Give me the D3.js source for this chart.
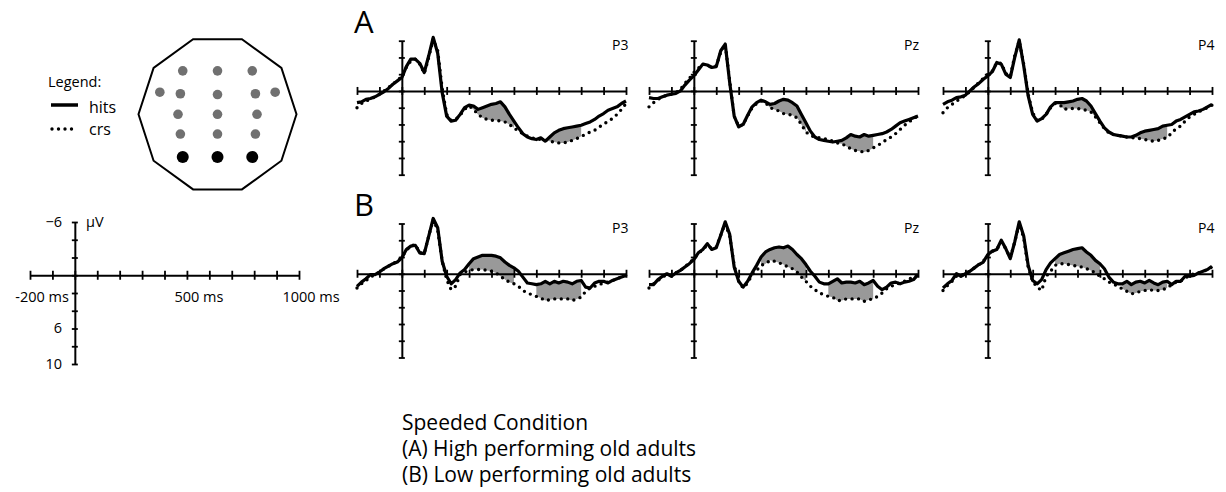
<!DOCTYPE html>
<html>
<head>
<meta charset="utf-8">
<script src="https://cdn.jsdelivr.net/npm/d3@7"></script>
<style>
  body { margin: 0; background: #fff; }
  svg { display: block; font-family: 'Open Sans', sans-serif; }
</style>
</head>
<body>
<svg id="chart" width="1226" height="492"></svg>
<script>
// sample times (ms), one value every 20 ms
const times = [-200, -180, -160, -140, -120, -100, -80, -60, -40, -20,
  0, 20, 40, 60, 80, 100, 120, 140, 160, 180,
  200, 220, 240, 260, 280, 300, 320, 340, 360, 380,
  400, 420, 440, 460, 480, 500, 520, 540, 560, 580,
  600, 620, 640, 660, 680, 700, 720, 740, 760, 780,
  800, 820, 840, 860, 880, 900, 920, 940, 960, 980, 1000]

const xTickValues = [-200, -100, 0, 100, 200, 300, 400, 500, 600, 700, 800, 900, 1000]
const yTickValues = [-6, -4, -2, 0, 2, 4, 6, 8, 10]

const groups = ['A', 'B']
const channels = ['P3', 'Pz', 'P4']

// amplitudes in microvolts (negative plotted up)
const hitsA_P3 = [1.4, 1.3, 1.0, 0.9, 0.7, 0.4, 0.1, -0.3, -0.8, -1.2,
  -1.6, -2.9, -3.8, -3.8, -3.3, -2.2, -4.2, -6.4, -4.5, 0.2,
  3.0, 3.6, 3.5, 2.8, 2.0, 1.7, 1.8, 2.2, 2.0, 1.8,
  1.6, 1.5, 1.3, 1.9, 2.8, 3.6, 4.4, 5.1, 5.5, 5.7,
  5.8, 5.6, 6.0, 5.5, 5.0, 4.7, 4.5, 4.4, 4.3, 4.2,
  4.1, 3.9, 3.7, 3.4, 3.0, 2.7, 2.3, 2.1, 1.9, 1.5, 1.2]
const crsA_P3 = [2.0, 1.5, 1.2, 1.0, 0.7, 0.4, 0.0, -0.4, -0.8, -1.3,
  -1.7, -2.8, -3.6, -3.8, -3.2, -2.1, -4.0, -6.2, -4.8, -0.3,
  2.8, 3.5, 3.4, 2.9, 2.2, 1.8, 2.2, 2.8, 3.2, 3.4,
  3.5, 3.5, 3.6, 3.7, 4.0, 4.4, 4.8, 5.1, 5.4, 5.6,
  5.7, 5.8, 5.9, 6.0, 6.1, 6.2, 6.2, 6.1, 5.9, 5.7,
  5.4, 5.2, 4.9, 4.7, 4.3, 4.0, 3.6, 3.3, 2.8, 2.2, 1.5]
const hitsA_Pz = [0.8, 0.9, 0.9, 0.7, 0.5, 0.4, 0.3, 0.0, -0.7, -1.3,
  -1.8, -2.5, -3.2, -3.1, -2.8, -2.9, -4.8, -5.6, -1.0, 3.0,
  4.3, 4.0, 2.9, 1.9, 1.4, 1.1, 1.3, 1.6, 1.5, 1.2,
  1.0, 1.1, 1.4, 1.8, 2.8, 3.8, 4.8, 5.5, 5.8, 5.9,
  6.0, 6.1, 6.0, 5.9, 5.6, 5.2, 5.4, 5.5, 5.2, 5.4,
  5.3, 5.2, 5.1, 4.9, 4.6, 4.2, 3.8, 3.6, 3.4, 3.2, 3.0]
const crsA_Pz = [1.9, 1.4, 1.0, 0.7, 0.5, 0.4, 0.2, -0.2, -0.9, -1.5,
  -2.2, -2.7, -3.2, -3.1, -2.8, -3.0, -4.6, -5.6, -1.2, 3.0,
  4.2, 4.0, 3.0, 2.0, 1.5, 1.2, 1.4, 2.0, 2.2, 2.4,
  2.7, 2.8, 2.9, 3.2, 4.0, 4.9, 5.3, 5.5, 5.6, 5.7,
  5.8, 6.0, 6.2, 6.3, 6.6, 6.9, 7.1, 7.2, 7.3, 7.1,
  6.8, 6.5, 6.2, 5.8, 5.5, 5.1, 4.6, 4.1, 3.7, 3.3, 3.0]
const hitsA_P4 = [1.6, 1.3, 1.1, 0.8, 0.7, 0.5, 0.0, -0.5, -0.9, -1.4,
  -1.8, -2.3, -3.4, -3.2, -2.0, -1.6, -4.0, -6.1, -3.0, 0.6,
  2.8, 3.6, 3.3, 2.8, 1.9, 1.4, 1.4, 1.4, 1.3, 1.2,
  1.0, 0.9, 1.2, 1.8, 2.7, 3.6, 4.4, 4.9, 5.2, 5.3,
  5.4, 5.5, 5.5, 5.3, 5.0, 4.8, 4.7, 4.6, 4.5, 4.2,
  4.1, 4.0, 3.6, 3.4, 3.1, 2.8, 2.5, 2.4, 2.2, 1.9, 1.6]
const crsA_P4 = [2.6, 2.0, 1.6, 1.2, 0.9, 0.5, 0.1, -0.5, -1.0, -1.5,
  -2.0, -2.4, -3.4, -3.3, -2.1, -1.7, -4.2, -6.0, -3.2, 0.4,
  2.6, 3.5, 3.4, 2.8, 2.0, 1.5, 1.6, 2.2, 2.1, 2.1,
  2.1, 2.2, 2.3, 2.5, 3.1, 3.8, 4.5, 5.0, 5.2, 5.3,
  5.4, 5.5, 5.6, 5.6, 5.7, 5.8, 5.9, 6.0, 5.9, 5.7,
  5.6, 5.0, 4.5, 4.2, 3.6, 3.1, 2.8, 2.5, 2.2, 2.0, 1.7]
const hitsB_P3 = [1.5, 1.0, 0.6, 0.1, 0.1, -0.2, -0.6, -0.9, -1.2, -1.4,
  -1.9, -2.9, -3.3, -3.4, -2.5, -2.4, -4.5, -6.6, -5.5, -1.5,
  0.3, 1.2, 0.7, -0.1, -0.5, -1.2, -1.8, -2.0, -2.2, -2.2,
  -2.2, -2.1, -1.9, -1.4, -1.0, -0.7, -0.3, 0.4, 1.1, 1.2,
  1.3, 1.2, 0.9, 1.2, 0.9, 1.1, 0.9, 1.0, 1.2, 0.9,
  0.8, 1.6, 1.7, 1.1, 0.9, 0.9, 1.1, 0.8, 0.6, 0.4, 0.2]
const crsB_P3 = [1.7, 1.2, 0.8, 0.4, 0.1, -0.2, -0.6, -0.9, -1.2, -1.5,
  -2.0, -2.8, -3.3, -3.5, -2.5, -2.4, -4.5, -6.5, -5.2, -1.5,
  0.7, 1.9, 1.5, 0.1, -0.2, -0.4, -0.5, -0.5, -0.5, -0.4,
  -0.3, -0.1, 0.3, 0.7, 1.0, 1.2, 1.5, 2.0, 2.3, 2.5,
  2.7, 2.9, 3.2, 3.1, 3.0, 3.0, 3.0, 3.0, 3.2, 3.0,
  2.8, 2.1, 1.7, 1.5, 1.3, 1.1, 1.0, 0.8, 0.6, 0.4, 0.2]
const hitsB_Pz = [1.3, 1.3, 0.7, 0.3, 0.0, 0.3, -0.1, -0.4, -0.8, -1.2,
  -1.7, -2.5, -2.9, -3.6, -2.9, -3.1, -4.6, -6.2, -4.7, -0.8,
  0.9, 1.6, 0.9, -0.1, -1.0, -2.0, -2.6, -2.9, -3.1, -3.2,
  -3.1, -3.3, -2.9, -2.3, -1.8, -1.1, -0.3, 0.3, 1.0, 1.2,
  1.2, 0.9, 0.6, 1.1, 1.0, 1.0, 1.1, 0.9, 1.3, 1.1,
  0.8, 1.5, 1.9, 1.6, 1.1, 1.0, 1.2, 1.0, 0.9, 0.7, 0.1]
const crsB_Pz = [1.7, 1.2, 0.8, 0.4, 0.1, 0.2, -0.1, -0.4, -0.8, -1.3,
  -1.8, -2.4, -2.9, -3.4, -3.0, -3.2, -4.6, -6.0, -4.5, -1.0,
  0.9, 1.7, 1.1, 0.1, -0.4, -1.0, -1.2, -1.6, -1.5, -1.3,
  -1.1, -0.8, -0.6, -0.2, 0.4, 0.9, 1.5, 1.9, 2.3, 2.5,
  2.7, 2.8, 3.2, 3.2, 3.0, 3.0, 3.0, 3.0, 3.3, 3.1,
  3.0, 2.7, 2.3, 1.8, 1.5, 1.3, 1.1, 0.9, 0.6, 0.5, 0.1]
const hitsB_P4 = [1.7, 1.2, 0.8, 0.0, 0.3, 0.0, -0.3, -0.7, -1.1, -1.4,
  -2.3, -2.7, -2.9, -4.0, -3.0, -1.8, -3.8, -6.2, -4.5, -1.0,
  0.8, 1.2, 0.7, -0.5, -1.3, -1.8, -2.3, -2.5, -2.7, -2.9,
  -3.0, -3.1, -2.6, -2.2, -1.6, -1.2, -0.6, 0.4, 1.0, 1.2,
  1.2, 0.9, 1.3, 1.0, 0.9, 1.1, 0.8, 1.1, 1.3, 1.0,
  0.9, 1.3, 0.9, 0.9, 0.3, 0.3, 0.2, -0.1, -0.3, -0.5, -0.9]
const crsB_P4 = [2.0, 1.4, 0.9, 0.3, 0.2, 0.0, -0.3, -0.7, -1.1, -1.5,
  -2.2, -2.7, -2.9, -3.8, -3.0, -1.9, -3.8, -6.0, -4.3, -0.8,
  0.9, 1.6, 2.0, 0.3, -0.3, -1.0, -1.2, -1.2, -1.1, -1.0,
  -0.9, -0.8, -0.6, -0.4, -0.1, 0.3, 0.6, 1.0, 1.2, 1.5,
  1.8, 2.1, 2.4, 2.3, 2.1, 2.0, 1.9, 2.0, 2.0, 1.9,
  1.7, 1.3, 1.0, 0.9, 0.5, 0.2, 0.0, -0.1, -0.3, -0.5, -0.8]

// time windows where hits vs crs difference is shaded
const shadeWindows = [[300, 500], [600, 800]]

// electrode montage (head units, -1..1, y down)
const electrodeNames = ['F3', 'Fz', 'F4', 'F7', 'FC3', 'FCz', 'FC4', 'F8', 'C3', 'Cz', 'C4', 'CP3', 'CPz', 'CP4', 'P3', 'Pz', 'P4']
const electrodeX = [-0.44, 0, 0.44, -0.73, -0.47, 0, 0.48, 0.73, -0.5, 0, 0.5, -0.47, 0, 0.48, -0.44, 0, 0.44]
const electrodeY = [-0.55, -0.55, -0.55, -0.28, -0.26, -0.25, -0.26, -0.28, 0, 0, 0, 0.25, 0.25, 0.25, 0.54, 0.54, 0.54]

const legendXLabels = [-200, 500, 1000]
const legendYLabels = ['\u22126', '6', '10']
const legendYValues = [-6, 6, 10]
const captionLines = ['Speeded Condition', '(A) High performing old adults', '(B) Low performing old adults']

const series = {
    A: { P3: [hitsA_P3, crsA_P3], Pz: [hitsA_Pz, crsA_Pz], P4: [hitsA_P4, crsA_P4] },
    B: { P3: [hitsB_P3, crsB_P3], Pz: [hitsB_Pz, crsB_Pz], P4: [hitsB_P4, crsB_P4] }
}

const svg = d3.select('#chart')

// two-sided ticks on a d3 axis
function styleAxis(g, horizontal, half) {
    g.select('.domain').attr('stroke', '#000').attr('stroke-width', 2)
    g.selectAll('.tick line').attr('stroke', '#000').attr('stroke-width', 1.8)
    if (horizontal) g.selectAll('.tick line').attr('y1', -half).attr('y2', half)
    else g.selectAll('.tick line').attr('x1', -half).attr('x2', half)
    g.selectAll('.tick text').remove()
}

function drawAxes(g, x, y, xHalf, yHalf) {
    g.append('g')
        .attr('transform', `translate(0,${y(0)})`)
        .call(d3.axisBottom(x).tickValues(xTickValues).tickSize(0).tickSizeOuter(0))
        .call(a => styleAxis(a, true, xHalf))
    g.append('g')
        .attr('transform', `translate(${x(0)},0)`)
        .call(d3.axisLeft(y).tickValues(yTickValues).tickSize(0).tickSizeOuter(0))
        .call(a => styleAxis(a, false, yHalf))
}

// one ERP panel
function drawPanel(g, hits, crs, x, y, label) {
    const inWindow = t => shadeWindows.some(w => t >= w[0] && t <= w[1])
    const area = d3.area()
        .defined((d, i) => inWindow(times[i]))
        .x((d, i) => x(times[i]))
        .y0((d, i) => y(crs[i]))
        .y1((d, i) => y(Math.min(hits[i], crs[i])))
    g.append('path')
        .attr('d', area(hits))
        .attr('fill', '#999')

    drawAxes(g, x, y, 4, 3)

    const line = d3.line()
        .x((d, i) => x(times[i]))
        .y(d => y(d))

    g.append('path')
        .attr('d', line(crs))
        .attr('fill', 'none')
        .attr('stroke', '#000')
        .attr('stroke-width', 3.4)
        .attr('stroke-linecap', 'round')
        .attr('stroke-dasharray', '0 6.5')

    g.append('path')
        .attr('d', line(hits))
        .attr('fill', 'none')
        .attr('stroke', '#000')
        .attr('stroke-width', 3.2)
        .attr('stroke-linejoin', 'round')

    g.append('text')
        .attr('x', x.range()[0] + 255)
        .attr('y', y.range()[0] + 9.5)
        .attr('font-size', 14)
        .text(label)
}

const panelLeft = [357, 649, 943]
const panelWidth = 269
const rowTop = [40.7, 223.5]
const rowHeight = 134

groups.forEach((grp, r) => {
    svg.append('text')
        .attr('x', 354)
        .attr('y', rowTop[r] - 7.5)
        .attr('font-size', 31)
        .text(grp)
    channels.forEach((ch, c) => {
        const x = d3.scaleLinear().domain([-200, 1000]).range([panelLeft[c], panelLeft[c] + panelWidth])
        const y = d3.scaleLinear().domain([-6, 10]).range([rowTop[r], rowTop[r] + rowHeight])
        const g = svg.append('g').attr('class', 'panel')
        drawPanel(g, series[grp][ch][0], series[grp][ch][1], x, y, ch)
    })
})

// head with electrodes
const head = svg.append('g').attr('class', 'head')
const hx = d3.scaleLinear().domain([-1, 1]).range([138.5, 296.5])
const hy = d3.scaleLinear().domain([-1, 1]).range([35.3, 193.3])
const decagon = d3.range(10).map(k => [hx(Math.cos(k * Math.PI / 5)), hy(Math.sin(k * Math.PI / 5))])
head.append('polygon')
    .attr('points', decagon.map(p => p.join(',')).join(' '))
    .attr('fill', 'none')
    .attr('stroke', '#000')
    .attr('stroke-width', 2)
head.selectAll('circle')
    .data(electrodeNames)
    .enter()
    .append('circle')
    .attr('cx', (d, i) => hx(electrodeX[i]))
    .attr('cy', (d, i) => hy(electrodeY[i]))
    .attr('r', d => channels.includes(d) ? 6 : 4.8)
    .attr('fill', d => channels.includes(d) ? '#000' : '#707070')

// legend
const lg = svg.append('g').attr('class', 'legend')
lg.append('text').attr('x', 48).attr('y', 87).attr('font-size', 14.5).text('Legend:')
lg.append('line').attr('x1', 51).attr('x2', 78).attr('y1', 105).attr('y2', 105)
    .attr('stroke', '#000').attr('stroke-width', 3.5)
lg.append('line').attr('x1', 52).attr('x2', 78).attr('y1', 129).attr('y2', 129)
    .attr('stroke', '#000').attr('stroke-width', 3.4)
    .attr('stroke-linecap', 'round').attr('stroke-dasharray', '0 6.5')
lg.append('text').attr('x', 89).attr('y', 113).attr('font-size', 16).text('hits')
lg.append('text').attr('x', 89).attr('y', 135).attr('font-size', 16).text('crs')

// scale key
const kx = d3.scaleLinear().domain([-200, 1000]).range([30, 299])
const ky = d3.scaleLinear().domain([-6, 10]).range([222, 364])
const key = svg.append('g').attr('class', 'key')
drawAxes(key, kx, ky, 4.5, 3)
legendXLabels.forEach(v => {
    const t = key.append('text').attr('y', 301.5).attr('font-size', 14.5)
    const num = t.append('tspan').text(v)
    t.append('tspan').text(' ms')
    const w = num.node().getComputedTextLength()
    t.attr('x', kx(v) - w / 2)
})
legendYLabels.forEach((lab, i) => {
    key.append('text')
        .attr('x', 62)
        .attr('y', ky(legendYValues[i]))
        .attr('dy', '0.34em')
        .attr('text-anchor', 'end')
        .attr('font-size', 14.5)
        .text(lab)
})
key.append('text').attr('x', 86).attr('y', ky(-6)).attr('dy', '0.34em')
    .attr('font-size', 14.5).text('\u00b5V')

// caption
svg.append('g').attr('class', 'caption')
    .selectAll('text')
    .data(captionLines)
    .enter()
    .append('text')
    .attr('x', 402)
    .attr('y', (d, i) => 430 + i * 26)
    .attr('font-size', 21)
    .text(d => d)
</script>
</body>
</html>
